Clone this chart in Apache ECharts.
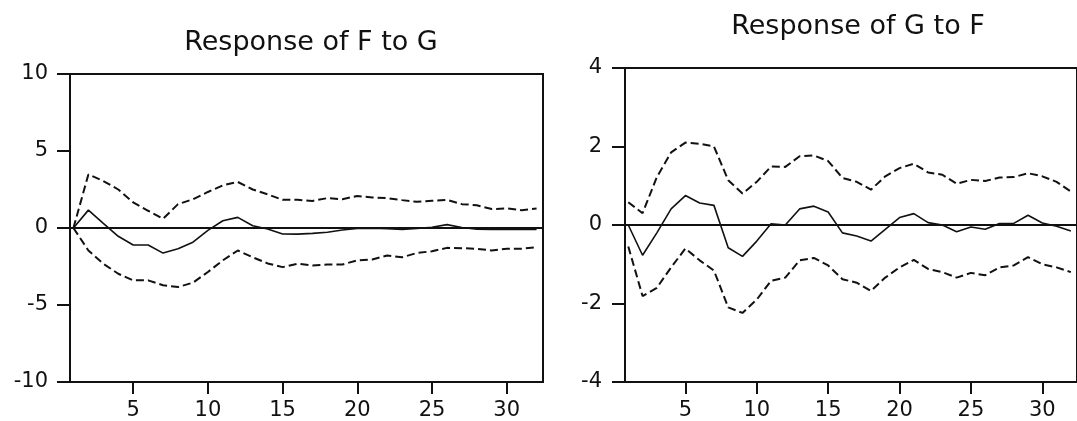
<!DOCTYPE html>
<html>
<head>
<meta charset="utf-8">
<script src="https://cdn.jsdelivr.net/npm/echarts@6/dist/echarts.min.js"></script>
<style>
html,body{margin:0;padding:0;background:#fff;}
#chart{width:1077px;height:421px;}
</style>
</head>
<body>
<div id="chart"></div>
<script>
const periods = [1,2,3,4,5,6,7,8,9,10,11,12,13,14,15,16,17,18,19,20,21,22,23,24,25,26,27,28,29,30,31,32];
const xTickValues = [5,10,15,20,25,30];
const leftYTicks = [-10,-5,0,5,10];
const rightYTicks = [-4,-2,0,2,4];
const leftTitle = "Response of F to G";
const rightTitle = "Response of G to F";

const fgResp  = [0, 1.16, 0.3, -0.54, -1.1, -1.1, -1.63, -1.35, -0.92, -0.15, 0.47, 0.69, 0.15, -0.06, -0.39, -0.4, -0.35, -0.28, -0.13, -0.03, -0.02, -0.04, -0.09, -0.03, 0.05, 0.22, 0.03, -0.08, -0.1, -0.1, -0.1, -0.1];
const fgUpper = [0, 3.48, 3.05, 2.5, 1.66, 1.12, 0.6, 1.55, 1.87, 2.34, 2.77, 2.99, 2.5, 2.19, 1.83, 1.83, 1.76, 1.94, 1.87, 2.08, 1.98, 1.94, 1.81, 1.7, 1.77, 1.83, 1.55, 1.48, 1.23, 1.27, 1.16, 1.27];
const fgLower = [0, -1.46, -2.32, -2.97, -3.4, -3.4, -3.72, -3.83, -3.55, -2.86, -2.1, -1.46, -1.9, -2.3, -2.54, -2.32, -2.43, -2.37, -2.37, -2.1, -2.04, -1.78, -1.9, -1.62, -1.51, -1.29, -1.31, -1.35, -1.46, -1.35, -1.35, -1.25];

const gfResp  = [0, -0.77, -0.2, 0.41, 0.75, 0.56, 0.5, -0.58, -0.8, -0.41, 0.03, 0.0, 0.41, 0.48, 0.33, -0.2, -0.28, -0.41, -0.11, 0.19, 0.29, 0.06, 0.0, -0.17, -0.05, -0.11, 0.04, 0.04, 0.25, 0.05, -0.03, -0.15];
const gfUpper = [0.58, 0.3, 1.22, 1.85, 2.1, 2.07, 2.0, 1.14, 0.8, 1.1, 1.49, 1.48, 1.75, 1.77, 1.63, 1.2, 1.1, 0.9, 1.24, 1.45, 1.56, 1.34, 1.28, 1.05, 1.15, 1.12, 1.21, 1.22, 1.32, 1.24, 1.1, 0.85];
const gfLower = [-0.55, -1.81, -1.6, -1.08, -0.6, -0.9, -1.16, -2.1, -2.24, -1.9, -1.42, -1.34, -0.9, -0.84, -1.03, -1.38, -1.47, -1.68, -1.34, -1.08, -0.89, -1.12, -1.2, -1.34, -1.22, -1.28, -1.08, -1.03, -0.82, -1.0, -1.08, -1.2];

const FONT = "DejaVu Sans";
const INK = "#111111";
const pairs = (ys) => periods.map((p, i) => [p, ys[i]]);

function xAxisFor(gi) {
  return {
    type: 'value', gridIndex: gi, min: 0.77, max: 32.43,
    axisLine: {show: true, onZero: false, lineStyle: {color: INK, width: 2}},
    axisTick: {show: true, inside: false, length: 12, customValues: xTickValues, lineStyle: {color: INK, width: 2}},
    axisLabel: {show: true, customValues: xTickValues, margin: 18, fontFamily: FONT, fontSize: 21, color: INK},
    splitLine: {show: false}
  };
}
function yAxisFor(gi, ticks, margin) {
  const step = ticks[1] - ticks[0];
  return {
    type: 'value', gridIndex: gi, min: ticks[0], max: ticks[ticks.length - 1], interval: step,
    axisLine: {show: true, onZero: false, lineStyle: {color: INK, width: 2}},
    axisTick: {show: true, inside: false, length: 13, lineStyle: {color: INK, width: 2}},
    axisLabel: {show: true, margin: margin, fontFamily: FONT, fontSize: 21, color: INK},
    splitLine: {show: false}
  };
}
function seriesFor(gi, resp, up, lo) {
  const base = {type: 'line', xAxisIndex: gi, yAxisIndex: gi, showSymbol: false, symbol: 'none', silent: true, animation: false};
  return [
    Object.assign({}, base, {data: pairs(up), lineStyle: {color: INK, width: 2, type: [8, 4]}}),
    Object.assign({}, base, {data: pairs(lo), lineStyle: {color: INK, width: 2, type: [8, 4]}}),
    Object.assign({}, base, {data: pairs(resp), lineStyle: {color: INK, width: 1.6},
      markLine: {silent: true, symbol: 'none', label: {show: false}, lineStyle: {color: INK, width: 2, type: 'solid'}, data: [{yAxis: 0}]}})
  ];
}

const chart = echarts.init(document.getElementById('chart'), null, {renderer: 'canvas'});
chart.setOption({
  animation: false,
  backgroundColor: '#ffffff',
  title: [
    {text: leftTitle, left: 306, top: 24, textAlign: 'center', textStyle: {fontFamily: FONT, fontSize: 27, fontWeight: 'normal', color: INK}},
    {text: rightTitle, left: 853, top: 8, textAlign: 'center', textStyle: {fontFamily: FONT, fontSize: 27, fontWeight: 'normal', color: INK}}
  ],
  grid: [
    {left: 70, top: 74, width: 473, height: 309, show: true, borderColor: INK, borderWidth: 2, backgroundColor: 'transparent'},
    {left: 625, top: 68, width: 461, height: 314, show: true, borderColor: INK, borderWidth: 2, backgroundColor: 'transparent'}
  ],
  xAxis: [xAxisFor(0), xAxisFor(1)],
  yAxis: [yAxisFor(0, leftYTicks, 22), yAxisFor(1, rightYTicks, 23)],
  series: [].concat(seriesFor(0, fgResp, fgUpper, fgLower), seriesFor(1, gfResp, gfUpper, gfLower))
});
</script>
</body>
</html>
